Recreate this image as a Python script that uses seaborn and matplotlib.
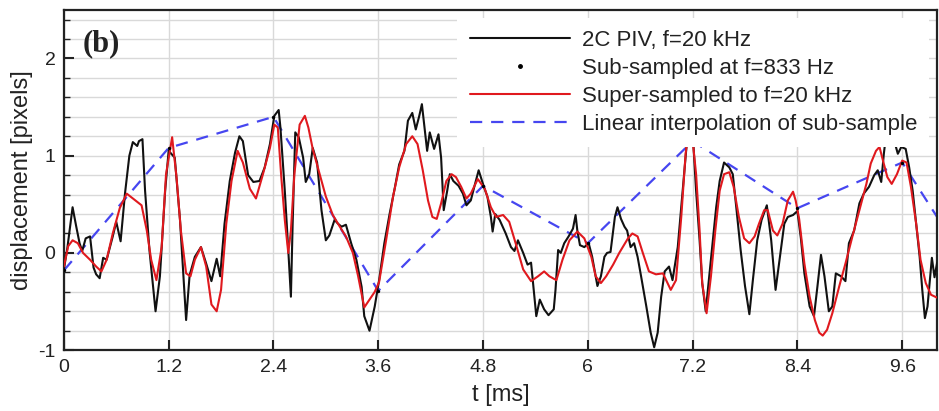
import matplotlib
matplotlib.use("Agg")
import matplotlib.pyplot as plt
from matplotlib.ticker import MultipleLocator, FixedLocator
from matplotlib.lines import Line2D
import seaborn as sns
import pandas as pd

# 2C PIV signal, f = 20 kHz
t_piv = [0.00, 0.04, 0.10, 0.14, 0.18, 0.21, 0.25, 0.30, 0.34, 0.37, 0.41, 0.45, 0.49, 0.56, 0.60,
         0.65, 0.70, 0.75, 0.79, 0.84, 0.86, 0.90, 0.93, 0.98, 1.05, 1.10, 1.16, 1.20, 1.27, 1.33,
         1.40, 1.44, 1.50, 1.57, 1.63, 1.69, 1.75, 1.79, 1.84, 1.90, 1.96, 2.01, 2.05, 2.11, 2.17,
         2.24, 2.30, 2.36, 2.41, 2.46, 2.48, 2.53, 2.57, 2.60, 2.62, 2.65, 2.69, 2.74, 2.77, 2.81,
         2.85, 2.90, 2.95, 3.00, 3.04, 3.10, 3.14, 3.18, 3.23, 3.29, 3.35, 3.41, 3.44, 3.50, 3.56,
         3.61, 3.67, 3.73, 3.79, 3.84, 3.90, 3.94, 3.99, 4.03, 4.07, 4.10, 4.13, 4.16, 4.19, 4.24,
         4.29, 4.32, 4.35, 4.39, 4.42, 4.46, 4.52, 4.57, 4.61, 4.66, 4.70, 4.75, 4.81, 4.85, 4.89,
         4.91, 4.94, 4.99, 5.06, 5.12, 5.16, 5.20, 5.26, 5.31, 5.35, 5.38, 5.41, 5.45, 5.50, 5.55,
         5.61, 5.63, 5.66, 5.69, 5.73, 5.78, 5.83, 5.86, 5.88, 5.91, 5.96, 6.01, 6.05, 6.09, 6.11,
         6.15, 6.19, 6.22, 6.26, 6.29, 6.31, 6.34, 6.38, 6.42, 6.45, 6.49, 6.53, 6.57, 6.61, 6.67,
         6.72, 6.76, 6.80, 6.84, 6.88, 6.93, 6.97, 7.03, 7.07, 7.11, 7.15, 7.18, 7.21, 7.24, 7.28,
         7.31, 7.35, 7.39, 7.43, 7.47, 7.51, 7.56, 7.62, 7.66, 7.70, 7.75, 7.80, 7.85, 7.89, 7.94,
         7.99, 8.05, 8.10, 8.15, 8.20, 8.25, 8.29, 8.35, 8.40, 8.44, 8.48, 8.54, 8.59, 8.63, 8.67,
         8.71, 8.76, 8.80, 8.84, 8.90, 8.95, 8.99, 9.05, 9.11, 9.16, 9.22, 9.28, 9.32, 9.36, 9.39,
         9.42, 9.47, 9.51, 9.55, 9.59, 9.64, 9.68, 9.72, 9.76, 9.80, 9.83, 9.86, 9.89, 9.94, 9.97,
         10.00]
d_piv = [-0.17, 0.05, 0.47, 0.28, 0.10, 0.02, 0.15, 0.17, -0.15, -0.22, -0.26, -0.05, -0.07, 0.17, 0.32,
         0.12, 0.61, 1.00, 1.14, 1.10, 1.15, 1.17, 0.64, 0.03, -0.60, -0.24, 0.64, 1.05, 0.98, 0.34,
         -0.69, -0.23, -0.04, 0.06, -0.11, -0.29, -0.06, -0.24, 0.30, 0.74, 1.03, 1.20, 1.15, 0.80, 0.73,
         0.74, 0.88, 1.12, 1.41, 1.47, 1.29, 0.64, 0.03, -0.45, 0.30, 1.24, 1.19, 0.98, 0.73, 0.81,
         1.08, 0.93, 0.44, 0.13, 0.18, 0.34, 0.30, 0.27, 0.29, 0.10, -0.07, -0.35, -0.65, -0.80, -0.55,
         -0.28, 0.10, 0.40, 0.67, 0.91, 1.05, 1.36, 1.44, 1.27, 1.41, 1.53, 1.29, 1.05, 1.24, 1.07,
         1.22, 0.98, 0.44, 0.64, 0.81, 0.74, 0.69, 0.61, 0.49, 0.54, 0.68, 0.85, 0.68, 0.58, 0.37,
         0.22, 0.40, 0.34, 0.20, 0.06, 0.02, 0.13, 0.00, -0.12, -0.10, -0.38, -0.65, -0.48, -0.58, -0.64,
         -0.58, -0.38, 0.03, 0.00, 0.10, 0.17, 0.25, 0.39, 0.23, 0.08, 0.06, 0.10, -0.04, -0.24, -0.34,
         -0.24, -0.04, 0.00, 0.01, 0.23, 0.37, 0.47, 0.35, 0.27, 0.23, 0.06, 0.10, -0.04, -0.24, -0.55,
         -0.82, -0.97, -0.82, -0.45, -0.19, -0.14, -0.28, 0.06, 0.47, 0.88, 1.30, 1.40, 1.10, 0.64, 0.13,
         -0.31, -0.60, -0.24, 0.13, 0.47, 0.74, 0.93, 0.88, 0.81, 0.47, 0.03, -0.34, -0.63, -0.28, 0.13,
         0.34, 0.49, 0.13, -0.38, -0.04, 0.30, 0.37, 0.39, 0.43, 0.15, -0.21, -0.55, -0.65, -0.34, -0.02,
         -0.24, -0.60, -0.55, -0.21, -0.24, -0.29, 0.10, 0.23, 0.51, 0.61, 0.68, 0.80, 0.85, 0.73, 1.02,
         1.25, 1.30, 1.15, 1.02, 1.09, 1.07, 0.88, 0.64, 0.30, -0.04, -0.38, -0.67, -0.55, -0.05, -0.25,
         -0.10]

# Super-sampled reconstruction back to 20 kHz
t_sup = [0.00, 0.05, 0.10, 0.16, 0.22, 0.30, 0.37, 0.43, 0.49, 0.56, 0.64, 0.72, 0.79, 0.89, 0.95,
         1.00, 1.06, 1.12, 1.17, 1.24, 1.29, 1.34, 1.40, 1.45, 1.50, 1.57, 1.63, 1.69, 1.75, 1.80,
         1.86, 1.92, 1.99, 2.05, 2.13, 2.20, 2.28, 2.36, 2.41, 2.45, 2.49, 2.53, 2.57, 2.60, 2.64,
         2.70, 2.76, 2.80, 2.85, 2.93, 3.00, 3.08, 3.16, 3.23, 3.31, 3.37, 3.44, 3.50, 3.56, 3.61,
         3.69, 3.77, 3.84, 3.92, 3.99, 4.05, 4.11, 4.17, 4.22, 4.27, 4.32, 4.38, 4.44, 4.49, 4.55,
         4.61, 4.66, 4.74, 4.82, 4.89, 4.95, 5.03, 5.10, 5.18, 5.26, 5.35, 5.43, 5.50, 5.56, 5.64,
         5.71, 5.79, 5.88, 5.96, 6.04, 6.09, 6.15, 6.21, 6.29, 6.36, 6.46, 6.51, 6.57, 6.63, 6.70,
         6.78, 6.86, 6.95, 7.01, 7.07, 7.12, 7.16, 7.19, 7.24, 7.28, 7.31, 7.36, 7.41, 7.46, 7.51,
         7.56, 7.62, 7.67, 7.73, 7.79, 7.85, 7.91, 7.96, 8.02, 8.06, 8.12, 8.17, 8.23, 8.29, 8.35,
         8.38, 8.42, 8.48, 8.54, 8.60, 8.65, 8.69, 8.74, 8.80, 8.88, 8.95, 9.03, 9.11, 9.19, 9.24,
         9.30, 9.34, 9.38, 9.43, 9.48, 9.54, 9.60, 9.65, 9.70, 9.76, 9.81, 9.87, 9.93, 10.00]
d_sup = [-0.14, 0.07, 0.13, 0.10, 0.00, -0.07, -0.14, -0.19, -0.07, 0.20, 0.46, 0.61, 0.56, 0.49, 0.23,
         -0.07, -0.28, 0.06, 0.81, 1.19, 0.78, 0.23, -0.21, -0.24, -0.07, 0.06, -0.14, -0.53, -0.60, -0.38,
         0.30, 0.74, 1.05, 0.93, 0.66, 0.56, 0.81, 1.08, 1.32, 1.29, 0.78, 0.34, 0.00, 0.23, 0.81,
         1.32, 1.41, 1.29, 1.07, 0.81, 0.58, 0.39, 0.27, 0.17, 0.00, -0.24, -0.56, -0.48, -0.40, -0.30,
         0.13, 0.58, 0.88, 1.12, 1.20, 1.12, 0.85, 0.54, 0.37, 0.35, 0.51, 0.74, 0.81, 0.78, 0.68,
         0.56, 0.61, 0.76, 0.66, 0.47, 0.37, 0.39, 0.32, 0.08, -0.17, -0.29, -0.24, -0.19, -0.24, -0.28,
         -0.07, 0.13, 0.22, 0.15, -0.04, -0.24, -0.31, -0.24, -0.12, 0.00, 0.15, 0.20, 0.17, 0.00, -0.19,
         -0.22, -0.21, -0.38, -0.28, 0.37, 1.02, 1.30, 1.25, 0.81, 0.23, -0.31, -0.62, -0.24, 0.23, 0.64,
         0.81, 0.83, 0.68, 0.37, 0.15, 0.10, 0.17, 0.30, 0.44, 0.44, 0.23, 0.18, 0.30, 0.54, 0.63,
         0.54, 0.35, -0.11, -0.45, -0.69, -0.82, -0.85, -0.79, -0.62, -0.34, -0.11, 0.17, 0.44, 0.71, 0.92,
         1.05, 1.09, 0.95, 0.78, 0.71, 0.81, 0.95, 0.93, 0.68, 0.30, -0.07, -0.31, -0.43, -0.46]

# Sub-samples at f = 833 Hz (every 1.2 ms)
t_sub = [0.0, 1.2, 2.4, 3.6, 4.8, 6.0, 7.2, 8.4, 9.6, 10.8]
d_sub = [-0.18, 1.08, 1.40, -0.39, 0.69, 0.10, 1.15, 0.46, 0.93, -0.75]

x_ticks = [0, 1.2, 2.4, 3.6, 4.8, 6, 7.2, 8.4, 9.6]
x_tick_labels = ["0", "1.2", "2.4", "3.6", "4.8", "6", "7.2", "8.4", "9.6"]
y_ticks = [-1, 0, 1, 2]

labels = ["2C PIV, f=20 kHz", "Sub-sampled at f=833 Hz",
          "Super-sampled to f=20 kHz", "Linear interpolation of sub-sample"]

sns.set_theme(style="white")
plt.rcParams["font.family"] = ["Liberation Sans", "DejaVu Sans"]
plt.rcParams["axes.unicode_minus"] = False

piv = pd.DataFrame({"t": t_piv, "d": d_piv})
sup = pd.DataFrame({"t": t_sup, "d": d_sup})
sub = pd.DataFrame({"t": t_sub, "d": d_sub})

fig = plt.figure(figsize=(9.39, 4.11), dpi=100)
ax = fig.add_axes([0.068, 0.148, 0.930, 0.828])

c_black = "#111111"
c_red = "#e0191e"
c_blue = "#4646f0"

sns.lineplot(data=sub, x="t", y="d", ax=ax, color=c_blue, linewidth=1.6,
             dashes=False, estimator=None, sort=False, zorder=2)
ax.lines[-1].set_dashes((5.5, 4.0))
sns.lineplot(data=piv, x="t", y="d", ax=ax, color=c_black, linewidth=1.5,
             estimator=None, sort=False, zorder=3)
sns.lineplot(data=sup, x="t", y="d", ax=ax, color=c_red, linewidth=1.5,
             estimator=None, sort=False, zorder=4)
sns.scatterplot(data=sub, x="t", y="d", ax=ax, color="black", s=6,
                linewidth=0, zorder=5)

ax.set_xlim(0, 10)
ax.set_ylim(-1, 2.5)
ax.xaxis.set_major_locator(FixedLocator(x_ticks))
ax.set_xticklabels(x_tick_labels)
ax.yaxis.set_major_locator(FixedLocator(y_ticks))
ax.yaxis.set_minor_locator(MultipleLocator(0.2))

ax.grid(True, which="major", axis="x", color="#d9d9d9", linewidth=1.0, zorder=0)
ax.grid(True, which="both", axis="y", color="#d9d9d9", linewidth=1.0, zorder=0)
ax.set_axisbelow(True)

for sp in ax.spines.values():
    sp.set_color("#222222")
    sp.set_linewidth(1.6)

ax.tick_params(axis="both", which="major", direction="in", length=7, width=1.5,
               labelsize=14, colors="#222222", pad=6)
ax.tick_params(axis="y", which="minor", direction="in", length=4, width=1.0,
               colors="#222222", left=True)
ax.tick_params(axis="x", which="both", bottom=True)
ax.tick_params(axis="y", which="both", left=True)

ax.set_xlabel("t [ms]", fontsize=17, color="#222222", labelpad=6)
ax.set_ylabel("displacement [pixels]", fontsize=17, color="#222222", labelpad=4)

ax.text(0.021, 0.9, "(b)", transform=ax.transAxes, fontsize=22, fontweight="bold",
        family=["Liberation Serif", "DejaVu Serif"], color="#222222", va="center", ha="left")

handles = [
    Line2D([], [], color=c_black, linewidth=1.5),
    Line2D([], [], color="black", marker="o", markersize=2.5, linestyle="none"),
    Line2D([], [], color=c_red, linewidth=1.5),
    Line2D([], [], color=c_blue, linewidth=1.6, dashes=(5.5, 4.0)),
]
leg = ax.legend(handles, labels, loc="upper right", fontsize=16, frameon=True,
                handlelength=4.5, handletextpad=0.55, labelspacing=0.32,
                borderpad=0.55, borderaxespad=0.35, fancybox=False)
leg.get_frame().set_facecolor("white")
leg.get_frame().set_edgecolor("none")
leg.get_frame().set_alpha(1.0)
leg.set_zorder(10)
for txt in leg.get_texts():
    txt.set_color("#222222")

fig.savefig("out.png", dpi=100)
